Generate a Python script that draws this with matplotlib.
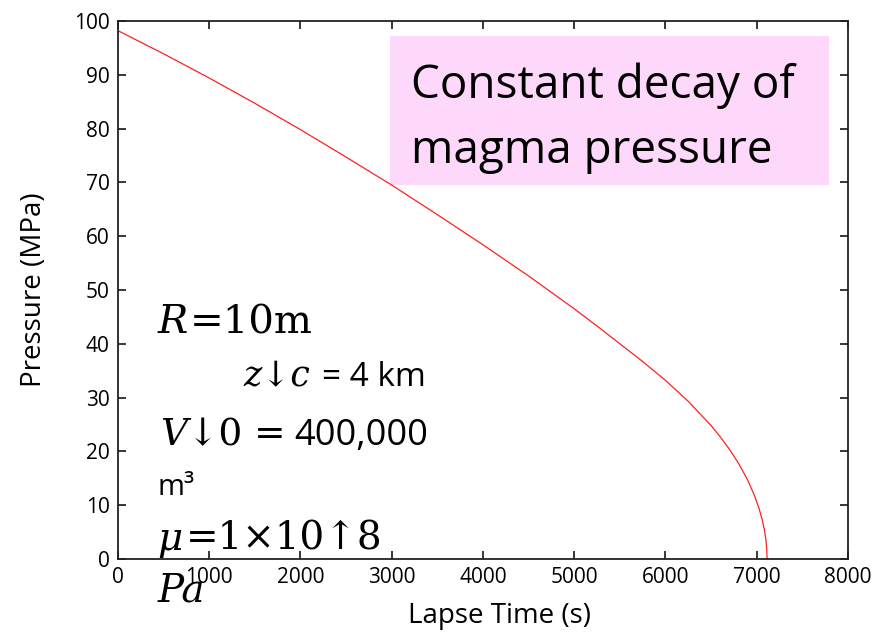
import numpy as np
import matplotlib
matplotlib.use('Agg')
import matplotlib.pyplot as plt

plt.rcParams['font.family'] = ['Open Sans', 'DejaVu Sans']

# pressure curve
lapse_time = [0, 500, 1000, 1500, 2000, 2500, 3000, 3500, 4000, 4500,
              5000, 5250, 5500, 5750, 6000, 6250, 6500, 6600, 6700, 6800,
              6900, 6975, 7025, 7060, 7085, 7100, 7110, 7113]
pressure = [98.2, 93.9, 89.4, 84.7, 79.8, 74.7, 69.5, 64.0, 58.4, 52.6,
            46.5, 43.3, 40.0, 36.7, 33.2, 29.3, 24.8, 22.7, 20.4, 17.8,
            14.7, 11.8, 9.4, 7.3, 5.3, 3.6, 1.7, 0.0]

xticks = [0, 1000, 2000, 3000, 4000, 5000, 6000, 7000, 8000]
yticks = [0, 10, 20, 30, 40, 50, 60, 70, 80, 90, 100]

W, H = 879, 637
fig = plt.figure(figsize=(W / 100, H / 100), dpi=100)
ax = fig.add_axes([118 / W, 1 - 559 / H, 730 / W, 538 / H])

ax.plot(lapse_time, pressure, color='#ff2020', lw=0.9)

ax.set_xlim(0, 8000)
ax.set_ylim(0, 100)
ax.set_xticks(xticks)
ax.set_yticks(yticks)
ax.tick_params(direction='in', length=6, width=1.1, top=True, right=True,
               labelsize=15, pad=6)
for s in ax.spines.values():
    s.set_linewidth(1.3)
    s.set_color('#222222')

ax.set_xlabel('Lapse Time (s)', fontsize=20)
ax.set_ylabel('Pressure (MPa)', fontsize=20)
ax.xaxis.set_label_coords((500 - 118) / 730, (559 - 602) / 538)
ax.yaxis.set_label_coords((48 - 118) / 730, (559 - 290) / 538)

# pink title box
ax.add_patch(plt.Rectangle(((390 - 118) / 730, (559 - 185) / 538),
                           (829 - 390) / 730, (185 - 36) / 538,
                           transform=ax.transAxes, color='#fdd8fb', lw=0, zorder=1))
ax.text((411 - 118) / 730, (559 - 98) / 538, 'Constant decay of',
        transform=ax.transAxes, fontsize=33, va='baseline', zorder=3)
ax.text((411 - 118) / 730, (559 - 163) / 538, 'magma pressure',
        transform=ax.transAxes, fontsize=33, va='baseline', zorder=3)


def put(x, y, s, **kw):
    fig.text(x / W, 1 - y / H, s, va='baseline', **kw)


serif = ['DejaVu Serif']
put(158, 333, 'R', family=serif, style='italic', fontsize=29)
put(190, 333, '=10m', family=serif, fontsize=29)
put(243, 386, 'z\u2193c', family=serif, style='italic', fontsize=25)
put(322, 386, '= 4 km', fontsize=24)
put(160, 445, 'V', family=serif, style='italic', fontsize=27)
put(187, 445, '\u21930 =', family=serif, fontsize=27)
put(294, 445, '400,000', fontsize=26)
put(158, 495, 'm\u00b3', fontsize=21)
put(157, 550, '\u03bc', family=serif, style='italic', fontsize=28)
put(186, 550, '=1\u00d710\u21918', family=serif, fontsize=28)
put(158, 602, 'Pa', family=serif, style='italic', fontsize=28)

fig.savefig('out.png', dpi=100)
